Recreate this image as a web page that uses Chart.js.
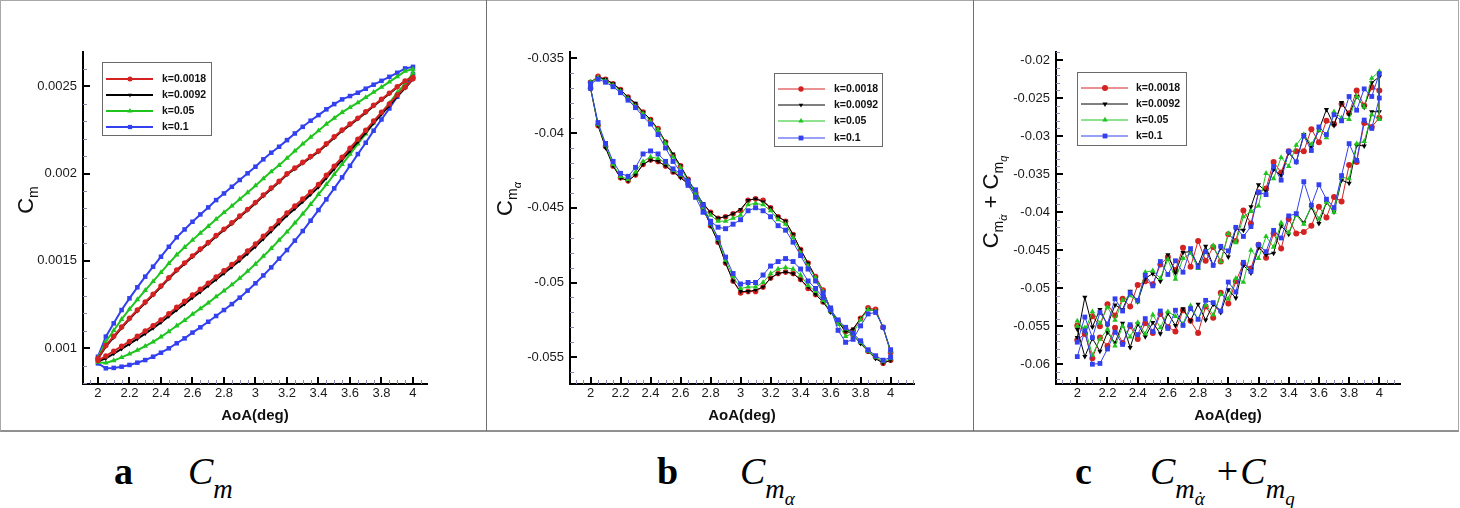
<!DOCTYPE html>
<html>
<head>
<meta charset="utf-8">
<script src="https://cdn.jsdelivr.net/npm/chart.js@4.4.1/dist/chart.umd.min.js"></script>
<style>
  body { margin: 0; background: #fff; width: 1460px; height: 508px; position: relative; overflow: hidden; font-family: 'Liberation Sans', Arial, sans-serif; }
  canvas { position: absolute; top: 0; }
  .frame { position: absolute; left: 0; top: 0; width: 1457px; height: 429px; border: 1px solid #a8a8a8; border-bottom: 2px solid #909090; }
  .sep { position: absolute; top: 0; width: 1px; height: 431px; background: #707070; }
  .ytitle { position: absolute; transform: translate(-50%, -50%) rotate(-90deg); font-size: 22px; line-height: 1; white-space: nowrap; color: #111; }
  .ytitle .s1 { font-size: 14px; vertical-align: -5px; }
  .ytitle .s2 { font-size: 11px; vertical-align: -4px; font-style: italic; }
  .cap { position: absolute; top: 452px; font-family: 'Liberation Serif', 'Times New Roman', serif; font-size: 38px; line-height: 38px; white-space: nowrap; color: #000; }
  .cap .s1 { font-size: 27px; vertical-align: -14px; font-style: italic; }
  .cap .s2 { font-size: 19px; vertical-align: -7px; font-style: italic; }
  .adot { position: relative; display: inline-block; }
  .adot::after { content: '\02D9'; position: absolute; left: 0.12em; font-style: normal; }
</style>
</head>
<body>
<canvas id="c1" width="487" height="432" style="left:0px"></canvas>
<canvas id="c2" width="487" height="432" style="left:487px"></canvas>
<canvas id="c3" width="487" height="432" style="left:973px"></canvas>
<div class="frame"></div>
<div class="sep" style="left:486px"></div>
<div class="sep" style="left:973px"></div>

<div class="ytitle" style="left:27px;top:200px">C<span class="s1">m</span></div>
<div class="ytitle" style="left:508px;top:199px">C<span class="s1">m<span class="s2">α</span></span></div>
<div class="ytitle" style="left:994px;top:202px">C<span class="s1">m<span class="s2 adot">α</span></span> + C<span class="s1">m<span class="s2">q</span></span></div>

<div class="cap" style="left:114px"><b>a</b></div>
<div class="cap" style="left:188px"><i>C</i><span class="s1">m</span></div>
<div class="cap" style="left:657px"><b>b</b></div>
<div class="cap" style="left:740px"><i>C</i><span class="s1">m<span class="s2">α</span></span></div>
<div class="cap" style="left:1075px"><b>c</b></div>
<div class="cap" style="left:1150px"><i>C</i><span class="s1">m<span class="s2 adot">α</span></span><span style="margin-left:12px;margin-right:2px">+</span><i>C</i><span class="s1">m<span class="s2">q</span></span></div>

<script>
// angle of attack samples (deg), the same for every loop; "Up" = one branch, "Dn" = return branch
const aoa = [2, 2.05, 2.1, 2.15, 2.2, 2.25, 2.3, 2.35, 2.4, 2.45, 2.5, 2.55, 2.6, 2.65, 2.7, 2.75, 2.8, 2.85, 2.9, 2.95,
  3, 3.05, 3.1, 3.15, 3.2, 3.25, 3.3, 3.35, 3.4, 3.45, 3.5, 3.55, 3.6, 3.65, 3.7, 3.75, 3.8, 3.85, 3.9, 3.95, 4];

const seriesNames = ['k=0.0018', 'k=0.0092', 'k=0.05', 'k=0.1'];

const aoaTicks = [2, 2.2, 2.4, 2.6, 2.8, 3, 3.2, 3.4, 3.6, 3.8, 4];
const cmTicks = [0.001, 0.0015, 0.002, 0.0025];
const cmaTicks = [-0.055, -0.05, -0.045, -0.04, -0.035];
const cmqTicks = [-0.06, -0.055, -0.05, -0.045, -0.04, -0.035, -0.03, -0.025, -0.02];

// panel a : Cm
const cm0018Up = [0.000942, 0.001016, 0.001069, 0.001122, 0.001172, 0.001219, 0.001265, 0.001310, 0.001357, 0.001404, 0.001449, 0.001489, 0.001529, 0.001568, 0.001605, 0.001645, 0.001682, 0.001718, 0.001757, 0.001795,
  0.001835, 0.001877, 0.001917, 0.001956, 0.001999, 0.002032, 0.002064, 0.002097, 0.002129, 0.002170, 0.002210, 0.002249, 0.002283, 0.002317, 0.002353, 0.002390, 0.002425, 0.002460, 0.002496, 0.002530, 0.002550];
const cm0018Dn = [0.000930, 0.000956, 0.000984, 0.001012, 0.001040, 0.001069, 0.001099, 0.001130, 0.001163, 0.001198, 0.001235, 0.001269, 0.001305, 0.001338, 0.001373, 0.001409, 0.001444, 0.001480, 0.001517, 0.001557,
  0.001597, 0.001641, 0.001685, 0.001730, 0.001775, 0.001814, 0.001854, 0.001895, 0.001937, 0.001990, 0.002042, 0.002093, 0.002145, 0.002196, 0.002247, 0.002300, 0.002350, 0.002398, 0.002449, 0.002494, 0.002542];
const cm0092Up = [0.000940, 0.001011, 0.001063, 0.001117, 0.001167, 0.001214, 0.001260, 0.001305, 0.001352, 0.001399, 0.001444, 0.001484, 0.001524, 0.001563, 0.001600, 0.001640, 0.001677, 0.001713, 0.001752, 0.001790,
  0.001830, 0.001872, 0.001912, 0.001951, 0.001994, 0.002027, 0.002059, 0.002092, 0.002124, 0.002165, 0.002205, 0.002244, 0.002278, 0.002312, 0.002348, 0.002386, 0.002421, 0.002457, 0.002494, 0.002529, 0.002552];
const cm0092Dn = [0.000926, 0.000943, 0.000969, 0.000997, 0.001025, 0.001054, 0.001084, 0.001115, 0.001148, 0.001183, 0.001220, 0.001254, 0.001290, 0.001323, 0.001358, 0.001394, 0.001429, 0.001465, 0.001502, 0.001542,
  0.001582, 0.001626, 0.001670, 0.001715, 0.001760, 0.001799, 0.001839, 0.001880, 0.001922, 0.001975, 0.002027, 0.002078, 0.002130, 0.002182, 0.002234, 0.002288, 0.002339, 0.002389, 0.002442, 0.002489, 0.002540];
const cm005Up = [0.000946, 0.001038, 0.001102, 0.001166, 0.001224, 0.001279, 0.001332, 0.001383, 0.001434, 0.001486, 0.001535, 0.001578, 0.001619, 0.001659, 0.001698, 0.001739, 0.001777, 0.001814, 0.001853, 0.001891,
  0.001930, 0.001971, 0.002011, 0.002047, 0.002088, 0.002129, 0.002169, 0.002208, 0.002245, 0.002283, 0.002317, 0.002350, 0.002378, 0.002405, 0.002435, 0.002465, 0.002494, 0.002524, 0.002554, 0.002585, 0.002597];
const cm005Dn = [0.000920, 0.000916, 0.000930, 0.000948, 0.000968, 0.000989, 0.001012, 0.001037, 0.001066, 0.001096, 0.001129, 0.001160, 0.001195, 0.001227, 0.001260, 0.001295, 0.001329, 0.001364, 0.001401, 0.001441,
  0.001482, 0.001527, 0.001571, 0.001619, 0.001666, 0.001717, 0.001769, 0.001824, 0.001881, 0.001937, 0.001995, 0.002052, 0.002110, 0.002169, 0.002227, 0.002289, 0.002346, 0.002402, 0.002462, 0.002513, 0.002575];
const cm01Up = [0.000952, 0.001067, 0.001143, 0.001219, 0.001286, 0.001349, 0.001410, 0.001467, 0.001524, 0.001581, 0.001635, 0.001680, 0.001724, 0.001766, 0.001806, 0.001848, 0.001886, 0.001924, 0.001963, 0.002001,
  0.002039, 0.002081, 0.002119, 0.002153, 0.002191, 0.002229, 0.002267, 0.002302, 0.002334, 0.002367, 0.002397, 0.002424, 0.002443, 0.002462, 0.002485, 0.002508, 0.002530, 0.002553, 0.002576, 0.002601, 0.002610];
const cm01Dn = [0.000914, 0.000886, 0.000888, 0.000895, 0.000905, 0.000918, 0.000933, 0.000952, 0.000975, 0.001000, 0.001029, 0.001057, 0.001090, 0.001120, 0.001152, 0.001185, 0.001219, 0.001253, 0.001290, 0.001330,
  0.001372, 0.001417, 0.001463, 0.001513, 0.001562, 0.001616, 0.001671, 0.001730, 0.001791, 0.001852, 0.001915, 0.001978, 0.002044, 0.002111, 0.002176, 0.002245, 0.002309, 0.002372, 0.002439, 0.002496, 0.002570];

// panel b : Cm_alpha
const cma0018Up = [-0.0366, -0.0362, -0.0364, -0.0367, -0.0371, -0.0376, -0.0381, -0.0386, -0.0391, -0.0397, -0.0406, -0.0415, -0.0422, -0.0431, -0.0440, -0.0448, -0.0453, -0.0457, -0.0456, -0.0454,
  -0.0452, -0.0445, -0.0444, -0.0445, -0.0450, -0.0456, -0.0459, -0.0468, -0.0478, -0.0487, -0.0496, -0.0505, -0.0518, -0.0526, -0.0531, -0.0535, -0.0540, -0.0546, -0.0550, -0.0554, -0.0552];
const cma0018Dn = [-0.0370, -0.0395, -0.0409, -0.0422, -0.0430, -0.0432, -0.0428, -0.0421, -0.0418, -0.0419, -0.0422, -0.0426, -0.0429, -0.0434, -0.0440, -0.0450, -0.0462, -0.0473, -0.0487, -0.0499,
  -0.0507, -0.0506, -0.0506, -0.0503, -0.0497, -0.0494, -0.0493, -0.0494, -0.0498, -0.0504, -0.0508, -0.0513, -0.0519, -0.0526, -0.0533, -0.0532, -0.0524, -0.0517, -0.0518, -0.0530, -0.0547];
const cma0092Up = [-0.0366, -0.0363, -0.0364, -0.0367, -0.0371, -0.0376, -0.0380, -0.0386, -0.0391, -0.0398, -0.0406, -0.0414, -0.0422, -0.0431, -0.0440, -0.0447, -0.0453, -0.0457, -0.0456, -0.0454,
  -0.0451, -0.0445, -0.0444, -0.0446, -0.0450, -0.0456, -0.0459, -0.0468, -0.0478, -0.0487, -0.0497, -0.0506, -0.0518, -0.0527, -0.0532, -0.0535, -0.0541, -0.0546, -0.0551, -0.0554, -0.0552];
const cma0092Dn = [-0.0370, -0.0395, -0.0410, -0.0422, -0.0430, -0.0432, -0.0428, -0.0421, -0.0418, -0.0419, -0.0422, -0.0426, -0.0430, -0.0434, -0.0441, -0.0450, -0.0462, -0.0473, -0.0487, -0.0499,
  -0.0506, -0.0506, -0.0505, -0.0503, -0.0497, -0.0494, -0.0493, -0.0494, -0.0498, -0.0503, -0.0508, -0.0513, -0.0520, -0.0526, -0.0533, -0.0531, -0.0524, -0.0518, -0.0519, -0.0530, -0.0546];
const cma005Up = [-0.0366, -0.0363, -0.0365, -0.0368, -0.0372, -0.0377, -0.0382, -0.0387, -0.0392, -0.0398, -0.0407, -0.0416, -0.0423, -0.0432, -0.0441, -0.0450, -0.0455, -0.0459, -0.0459, -0.0457,
  -0.0455, -0.0448, -0.0447, -0.0448, -0.0452, -0.0458, -0.0461, -0.0470, -0.0480, -0.0489, -0.0497, -0.0506, -0.0518, -0.0526, -0.0531, -0.0535, -0.0540, -0.0546, -0.0550, -0.0553, -0.0551];
const cma005Dn = [-0.0370, -0.0394, -0.0408, -0.0421, -0.0429, -0.0431, -0.0426, -0.0419, -0.0416, -0.0417, -0.0420, -0.0425, -0.0428, -0.0433, -0.0439, -0.0449, -0.0461, -0.0471, -0.0485, -0.0496,
  -0.0504, -0.0503, -0.0503, -0.0500, -0.0494, -0.0491, -0.0490, -0.0491, -0.0495, -0.0502, -0.0506, -0.0512, -0.0519, -0.0528, -0.0536, -0.0534, -0.0525, -0.0518, -0.0519, -0.0530, -0.0546];
const cma01Up = [-0.0367, -0.0364, -0.0366, -0.0369, -0.0373, -0.0378, -0.0383, -0.0389, -0.0394, -0.0401, -0.0410, -0.0419, -0.0426, -0.0435, -0.0443, -0.0453, -0.0459, -0.0463, -0.0464, -0.0461,
  -0.0458, -0.0452, -0.0450, -0.0452, -0.0456, -0.0462, -0.0465, -0.0473, -0.0482, -0.0491, -0.0499, -0.0507, -0.0518, -0.0525, -0.0530, -0.0534, -0.0539, -0.0545, -0.0549, -0.0552, -0.0550];
const cma01Dn = [-0.0370, -0.0393, -0.0407, -0.0419, -0.0427, -0.0429, -0.0423, -0.0414, -0.0412, -0.0414, -0.0419, -0.0424, -0.0427, -0.0432, -0.0438, -0.0448, -0.0460, -0.0470, -0.0483, -0.0494,
  -0.0501, -0.0500, -0.0500, -0.0495, -0.0489, -0.0486, -0.0484, -0.0486, -0.0491, -0.0499, -0.0504, -0.0510, -0.0517, -0.0532, -0.0540, -0.0538, -0.0529, -0.0521, -0.0520, -0.0530, -0.0545];

// panel c : Cm_alphadot + Cm_q (noisy)
const cmq0018Up = [-0.0549, -0.0560, -0.0537, -0.0550, -0.0521, -0.0536, -0.0514, -0.0524, -0.0496, -0.0491, -0.0495, -0.0469, -0.0459, -0.0476, -0.0447, -0.0472, -0.0438, -0.0464, -0.0446, -0.0465,
  -0.0429, -0.0438, -0.0398, -0.0415, -0.0374, -0.0369, -0.0334, -0.0348, -0.0320, -0.0320, -0.0320, -0.0291, -0.0308, -0.0280, -0.0284, -0.0258, -0.0270, -0.0240, -0.0260, -0.0236, -0.0240];
const cmq0018Dn = [-0.0568, -0.0560, -0.0592, -0.0565, -0.0576, -0.0552, -0.0572, -0.0550, -0.0567, -0.0546, -0.0559, -0.0534, -0.0551, -0.0557, -0.0529, -0.0543, -0.0559, -0.0524, -0.0539, -0.0506,
  -0.0520, -0.0491, -0.0468, -0.0474, -0.0443, -0.0460, -0.0428, -0.0448, -0.0409, -0.0428, -0.0426, -0.0418, -0.0393, -0.0407, -0.0380, -0.0386, -0.0338, -0.0334, -0.0283, -0.0288, -0.0276];
const cmq0092Up = [-0.0565, -0.0512, -0.0551, -0.0528, -0.0549, -0.0522, -0.0528, -0.0504, -0.0518, -0.0487, -0.0481, -0.0491, -0.0456, -0.0480, -0.0453, -0.0452, -0.0470, -0.0445, -0.0470, -0.0447,
  -0.0459, -0.0422, -0.0424, -0.0393, -0.0364, -0.0373, -0.0344, -0.0352, -0.0322, -0.0334, -0.0298, -0.0315, -0.0292, -0.0265, -0.0286, -0.0256, -0.0272, -0.0248, -0.0262, -0.0230, -0.0222];
const cmq0092Dn = [-0.0554, -0.0590, -0.0566, -0.0583, -0.0558, -0.0572, -0.0546, -0.0578, -0.0547, -0.0564, -0.0545, -0.0560, -0.0533, -0.0549, -0.0527, -0.0543, -0.0521, -0.0542, -0.0521, -0.0532,
  -0.0502, -0.0513, -0.0470, -0.0480, -0.0447, -0.0456, -0.0454, -0.0418, -0.0429, -0.0402, -0.0414, -0.0393, -0.0415, -0.0387, -0.0400, -0.0358, -0.0362, -0.0312, -0.0313, -0.0268, -0.0268];
const cmq005Up = [-0.0543, -0.0556, -0.0531, -0.0546, -0.0525, -0.0542, -0.0516, -0.0510, -0.0518, -0.0479, -0.0477, -0.0487, -0.0462, -0.0488, -0.0461, -0.0454, -0.0474, -0.0452, -0.0444, -0.0465,
  -0.0428, -0.0440, -0.0406, -0.0399, -0.0392, -0.0349, -0.0356, -0.0328, -0.0340, -0.0312, -0.0298, -0.0311, -0.0292, -0.0302, -0.0268, -0.0276, -0.0278, -0.0248, -0.0262, -0.0224, -0.0215];
const cmq005Dn = [-0.0550, -0.0552, -0.0588, -0.0567, -0.0554, -0.0576, -0.0550, -0.0564, -0.0545, -0.0560, -0.0535, -0.0552, -0.0531, -0.0537, -0.0547, -0.0523, -0.0541, -0.0522, -0.0535, -0.0508,
  -0.0514, -0.0487, -0.0492, -0.0450, -0.0461, -0.0432, -0.0446, -0.0414, -0.0427, -0.0404, -0.0416, -0.0391, -0.0409, -0.0387, -0.0400, -0.0354, -0.0356, -0.0310, -0.0307, -0.0272, -0.0278];
const cmq01Up = [-0.0571, -0.0538, -0.0565, -0.0532, -0.0547, -0.0514, -0.0530, -0.0506, -0.0516, -0.0483, -0.0497, -0.0465, -0.0482, -0.0464, -0.0479, -0.0448, -0.0472, -0.0452, -0.0470, -0.0445,
  -0.0451, -0.0420, -0.0432, -0.0419, -0.0374, -0.0377, -0.0340, -0.0358, -0.0320, -0.0334, -0.0300, -0.0319, -0.0288, -0.0298, -0.0272, -0.0280, -0.0248, -0.0266, -0.0238, -0.0248, -0.0218];
const cmq01Dn = [-0.0590, -0.0556, -0.0600, -0.0599, -0.0580, -0.0558, -0.0574, -0.0548, -0.0561, -0.0540, -0.0557, -0.0530, -0.0553, -0.0529, -0.0549, -0.0527, -0.0541, -0.0516, -0.0519, -0.0530,
  -0.0492, -0.0505, -0.0466, -0.0478, -0.0443, -0.0452, -0.0424, -0.0434, -0.0405, -0.0402, -0.0360, -0.0391, -0.0364, -0.0383, -0.0394, -0.0352, -0.0310, -0.0332, -0.0279, -0.0290, -0.0250];

const colors = ['#d42222', '#000000', '#1fc41f', '#3340ee'];
const markers = [['circle', 0], ['triangle', 180], ['triangle', 0], ['rect', 0]];

function loopPoints(up, dn) {
  const pts = aoa.map((x, i) => ({x: x, y: up[i]}));
  for (let i = aoa.length - 1; i >= 0; i--) pts.push({x: aoa[i], y: dn[i]});
  return pts;
}

function drawMark(ctx, style, rot, r, x, y) {
  if (Chart.helpers && Chart.helpers.drawPoint) {
    Chart.helpers.drawPoint(ctx, {pointStyle: style, rotation: rot, radius: r, borderWidth: 0}, x, y);
    return;
  }
  ctx.beginPath();
  ctx.arc(x, y, r, 0, Math.PI * 2);
  ctx.fill();
}

// inward major/minor tick marks, like the original plotting package
const innerTicks = {
  id: 'innerTicks',
  afterDraw(chart, args, o) {
    const ctx = chart.ctx, a = chart.chartArea;
    const xs = chart.scales.x, ys = chart.scales.y;
    ctx.save();
    const near = (v, list, step) => list.some(t => Math.abs(t - v) < step / 10);
    ctx.strokeStyle = '#8a8ab0';
    ctx.lineWidth = 1;
    ctx.beginPath();
    for (let i = Math.ceil(xs.min / o.xMinor - 1e-9); i <= Math.floor(xs.max / o.xMinor + 1e-9); i++) {
      const v = i * o.xMinor;
      if (near(v, aoaTicks, o.xMinor)) continue;
      const px = Math.round(xs.getPixelForValue(v)) + 0.5;
      ctx.moveTo(px, a.bottom); ctx.lineTo(px, a.bottom - 4);
    }
    for (let i = Math.ceil(ys.min / o.yMinor - 1e-9); i <= Math.floor(ys.max / o.yMinor + 1e-9); i++) {
      const v = i * o.yMinor;
      if (near(v, o.yMajor, o.yMinor)) continue;
      const py = Math.round(ys.getPixelForValue(v)) + 0.5;
      ctx.moveTo(a.left, py); ctx.lineTo(a.left + 4, py);
    }
    ctx.stroke();
    ctx.strokeStyle = '#000';
    ctx.lineWidth = 2;
    ctx.beginPath();
    aoaTicks.forEach(v => {
      const px = Math.round(xs.getPixelForValue(v));
      ctx.moveTo(px, a.bottom); ctx.lineTo(px, a.bottom - 7);
    });
    o.yMajor.forEach(v => {
      const py = Math.round(ys.getPixelForValue(v));
      ctx.moveTo(a.left, py); ctx.lineTo(a.left + 7, py);
    });
    ctx.stroke();
    ctx.restore();
  }
};

// boxed legend placed inside the plot
const boxLegend = {
  id: 'boxLegend',
  afterDraw(chart, args, o) {
    const ctx = chart.ctx;
    ctx.save();
    ctx.fillStyle = '#fff';
    ctx.fillRect(o.x, o.y, o.w, o.h);
    ctx.strokeStyle = '#6a6a6a';
    ctx.lineWidth = 1;
    ctx.strokeRect(o.x + 0.5, o.y + 0.5, o.w, o.h);
    ctx.font = 'bold 10.5px "Liberation Sans", Arial, sans-serif';
    ctx.textBaseline = 'middle';
    seriesNames.forEach((name, i) => {
      const y = o.rows[i];
      ctx.strokeStyle = colors[i];
      ctx.lineWidth = o.lineW;
      ctx.beginPath();
      ctx.moveTo(o.x0, y); ctx.lineTo(o.x1, y);
      ctx.stroke();
      ctx.fillStyle = colors[i];
      drawMark(ctx, markers[i][0], markers[i][1], o.radii[i], o.xm, y);
      ctx.fillStyle = '#111';
      ctx.fillText(name, o.xt, y);
    });
    ctx.restore();
  }
};

function makePanel(id, ups, dns, cfg) {
  const datasets = seriesNames.map((name, i) => ({
    label: name,
    data: loopPoints(ups[i], dns[i]),
    showLine: true,
    borderColor: colors[i],
    backgroundColor: colors[i],
    borderWidth: cfg.lineW,
    pointStyle: markers[i][0],
    rotation: markers[i][1],
    pointRadius: cfg.radii[i],
    pointBorderWidth: 0,
    pointBackgroundColor: colors[i],
    tension: 0,
    fill: false,
    order: cfg.order[i]
  }));
  const tickFont = {family: "'Liberation Sans', Arial, sans-serif", size: 13};
  new Chart(document.getElementById(id), {
    type: 'scatter',
    data: {datasets: datasets},
    plugins: [innerTicks, boxLegend],
    options: {
      responsive: false,
      animation: false,
      events: [],
      layout: {padding: {left: 0, top: 52, right: 60, bottom: 0}},
      plugins: {
        legend: {display: false},
        tooltip: {enabled: false},
        innerTicks: {xMinor: 0.05, yMinor: cfg.yMinor, yMajor: cfg.yTicks},
        boxLegend: cfg.legend
      },
      scales: {
        x: {
          type: 'linear',
          min: cfg.xMin, max: cfg.xMax,
          afterBuildTicks: s => { s.ticks = aoaTicks.map(v => ({value: v})); },
          afterFit: s => { s.height = 48; },
          grid: {display: false, drawTicks: false},
          border: {display: true, color: '#000', width: 2},
          ticks: {padding: 2, color: '#1a1a1a', font: tickFont, maxRotation: 0, autoSkip: false, callback: v => String(v)},
          title: {display: true, text: 'AoA(deg)', color: '#111', padding: {top: 0, bottom: 7},
            font: {family: "'Liberation Sans', Arial, sans-serif", size: 15, weight: 'bold'}}
        },
        y: {
          type: 'linear',
          min: cfg.yMin, max: cfg.yMax,
          afterBuildTicks: s => { s.ticks = cfg.yTicks.map(v => ({value: v})); },
          afterFit: s => { s.width = 83; },
          grid: {display: false, drawTicks: false},
          border: {display: true, color: '#000', width: 2},
          ticks: {padding: 6, color: '#1a1a1a', font: tickFont, autoSkip: false, callback: v => String(v)}
        }
      }
    }
  });
}

makePanel('c1', [cm0018Up, cm0092Up, cm005Up, cm01Up], [cm0018Dn, cm0092Dn, cm005Dn, cm01Dn], {
  xMin: 1.905, xMax: 4.089, yMin: 0.000796, yMax: 0.002695, yTicks: cmTicks, yMinor: 0.0001,
  lineW: 2, radii: [2.7, 2.6, 3.2, 3.2], order: [0, 1, 2, 3],
  legend: {x: 102, y: 62, w: 109, h: 73, rows: [79, 95, 111, 127], x0: 106, x1: 153, xm: 130, xt: 162, lineW: 2, radii: [2.5, 2.4, 3, 3]}
});

makePanel('c2', [cma0018Up, cma0092Up, cma005Up, cma01Up], [cma0018Dn, cma0092Dn, cma005Dn, cma01Dn], {
  xMin: 1.863, xMax: 4.156, yMin: -0.05679, yMax: -0.03458, yTicks: cmaTicks, yMinor: 0.001,
  lineW: 1, radii: [2.8, 2.7, 3.2, 3.5], order: [3, 2, 1, 0],
  legend: {x: 287, y: 73, w: 108, h: 73, rows: [89, 105, 121, 138], x0: 291, x1: 338, xm: 314, xt: 347, lineW: 1, radii: [2.7, 2.6, 3.1, 3.4]}
});

makePanel('c3', [cmq0018Up, cmq0092Up, cmq005Up, cmq01Up], [cmq0018Dn, cmq0092Dn, cmq005Dn, cmq01Dn], {
  xMin: 1.859, xMax: 4.137, yMin: -0.0626, yMax: -0.01895, yTicks: cmqTicks, yMinor: 0.001,
  lineW: 1, radii: [3, 3, 3.2, 3.4], order: [3, 2, 1, 0],
  legend: {x: 104, y: 72, w: 109, h: 73, rows: [88, 104, 120, 136], x0: 108, x1: 155, xm: 132, xt: 163, lineW: 1, radii: [3, 3, 3.2, 3.4]}
});
</script>
</body>
</html>
